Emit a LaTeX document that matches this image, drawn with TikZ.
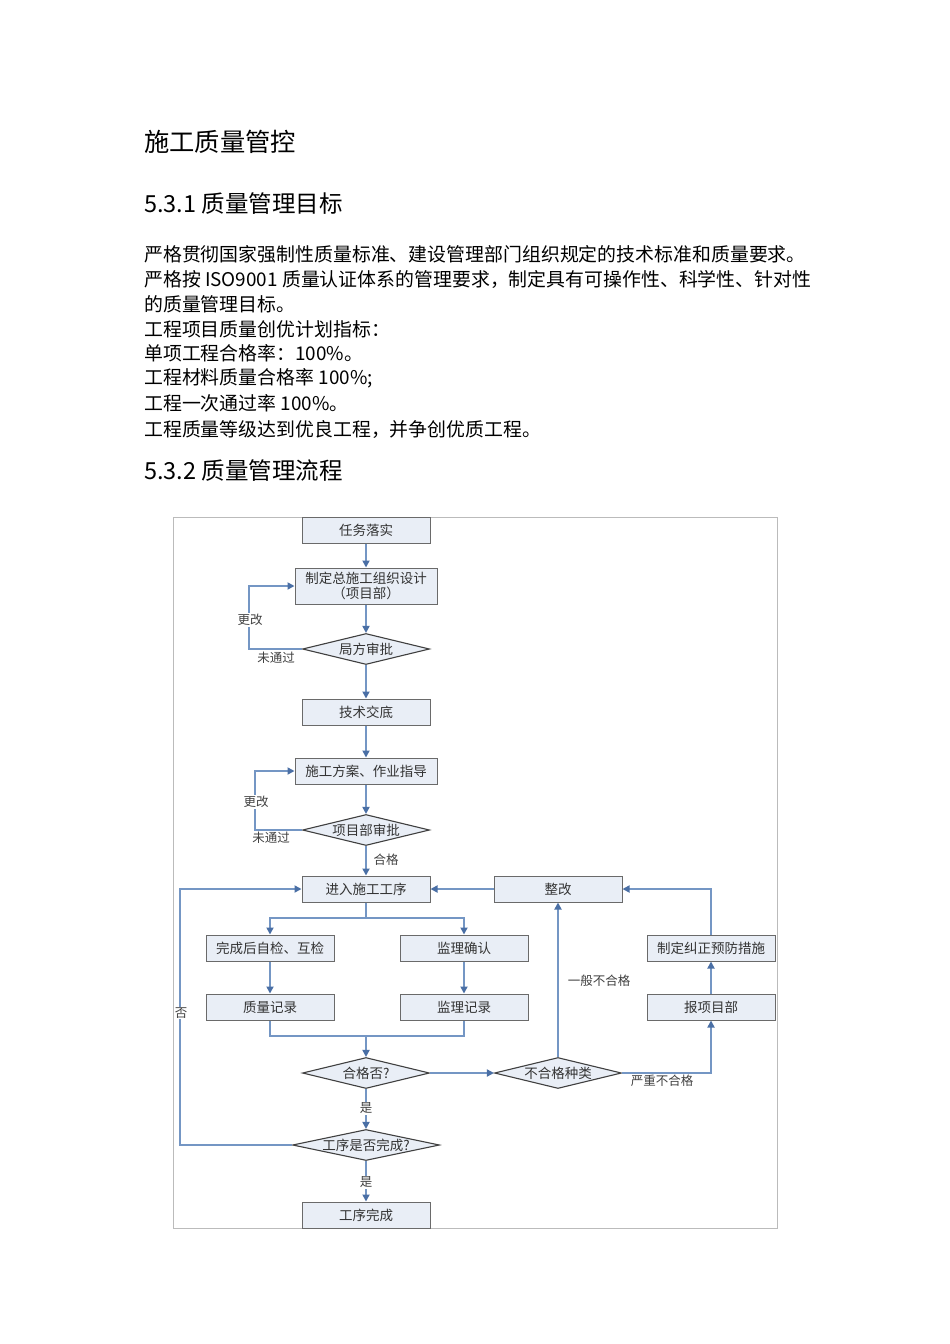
\documentclass[tikz,border=0pt]{standalone}
\usepackage{fontspec}
\setmainfont{Noto Sans CJK SC}
\usetikzlibrary{shapes.geometric,arrows.meta}
\definecolor{lineblue}{HTML}{7496C4}
\definecolor{tipblue}{HTML}{4A6FA5}
\definecolor{boxfill}{HTML}{E9EEF6}
\definecolor{boxline}{HTML}{6A6A6A}
\definecolor{frame}{HTML}{BBBBBB}
\begin{document}
\begin{tikzpicture}[x=1pt,y=-1pt,
  box/.style={draw=boxline,line width=1pt,fill=boxfill,minimum width=128pt,minimum height=26pt,inner sep=1pt,align=center,text=black!80,
    font=\fontsize{13.5}{15.5}\selectfont,
    preaction={fill=black!70,transform canvas={xshift=1.3pt,yshift=-1.3pt}}},
  wbox/.style={box,minimum width=142pt},
  dia/.style={diamond,draw=black!75,line width=1.1pt,fill=boxfill,minimum width=127pt,minimum height=31pt,inner sep=0pt,
    label={[font=\fontsize{13.5}{15}\selectfont,text=black!80]center:#1}},
  conn/.style={draw=lineblue,line width=1.7pt},
  arr/.style={conn,-{Triangle[width=7pt,length=7pt,color=tipblue]}},
  lbl/.style={font=\fontsize{12.5}{14}\selectfont,text=black!75,inner sep=1pt},
  wlbl/.style={lbl,fill=white},
  para/.style={anchor=west,inner sep=0pt,font=\fontsize{18.9}{20}\selectfont},
]
\useasboundingbox (0,0) rectangle (950,1344);
\fill[white] (0,0) rectangle (950,1344);

% text above
\node[para,font=\fontsize{25.3}{26}\selectfont] (t0) at (144,142) {施工质量管控};
\node[para,font=\fontsize{23.5}{24}\selectfont] (t1) at (144,204) {5.3.1 质量管理目标};
\node[para] (p1) at (144,254) {严格贯彻国家强制性质量标准、建设管理部门组织规定的技术标准和质量要求。};
\node[para] (p2) at (144,279) {严格按 ISO9001 质量认证体系的管理要求，制定具有可操作性、科学性、针对性};
\node[para] (p3) at (144,304) {的质量管理目标。};
\node[para] (p4) at (144,329) {工程项目质量创优计划指标：};
\node[para] (p5) at (144,353) {单项工程合格率：100\%。};
\node[para] (p6) at (144,378) {工程材料质量合格率 100\%;};
\node[para] (p7) at (144,403) {工程一次通过率 100\%。};
\node[para] (p8) at (144,429) {工程质量等级达到优良工程，并争创优质工程。};
\node[para,font=\fontsize{23.5}{24}\selectfont] (t2) at (144,471) {5.3.2 质量管理流程};

% frame
\draw[frame,line width=0.8pt] (173,517) rectangle (777,1228);

% nodes
\node[box] (n1) at (366,530) {任务落实};
\node[wbox,minimum height=36pt,font=\fontsize{13.5}{15}\selectfont] (n2) at (366,586) {制定总施工组织设计\\（项目部）};
\node[dia=局方审批] (d1) at (366,649) {};
\node[box] (n3) at (366,712) {技术交底};
\node[wbox] (n4) at (366,771) {施工方案、作业指导};
\node[dia=项目部审批] (d2) at (366,830) {};
\node[box] (n5) at (366,889) {进入施工工序};
\node[box] (n6) at (558,889) {整改};
\node[box] (n7) at (270,948) {完成后自检、互检};
\node[box] (n8) at (464,948) {监理确认};
\node[box] (n9) at (270,1007) {质量记录};
\node[box] (n10) at (464,1007) {监理记录};
\node[box] (n11) at (711,948) {制定纠正预防措施};
\node[box] (n12) at (711,1007) {报项目部};
\node[dia=合格否?] (d3) at (366,1073) {};
\node[dia=不合格种类] (d4) at (558,1073) {};
\node[dia=工序是否完成?,minimum width=147pt] (d5) at (366,1145) {};
\node[box] (n13) at (366,1215) {工序完成};

% connectors
\draw[arr] (n1) -- (n2);
\draw[arr] (n2) -- (d1);
\draw[arr] (d1.west) -- ++(-53,0) |- (n2.west);
\node[wlbl] (l1) at (250,620) {更改};
\node[lbl] (l2) at (276,658) {未通过};
\draw[arr] (d1) -- (n3);
\draw[arr] (n3) -- (n4);
\draw[arr] (n4) -- (d2);
\draw[arr] (d2.west) -- ++(-47,0) |- (n4.west);
\node[wlbl] (l3) at (256,802) {更改};
\node[lbl] (l4) at (271,838) {未通过};
\draw[arr] (d2) -- (n5);
\node[lbl] (l5) at (386,860) {合格};

\coordinate (s) at (366,918);
\draw[conn] (n5) -- (s);
\draw[arr] (s) -| (n7.north);
\draw[arr] (s) -| (n8.north);
\draw[arr] (n7) -- (n9);
\draw[arr] (n8) -- (n10);
\coordinate (m) at (366,1036);
\draw[conn] (n9.south) |- (m) -| (n10.south);
\draw[arr] (m) -- (d3.north);
\draw[arr] (d3.east) -- (d4.west);
\draw[arr] (d4.north) -- (n6.south);
\node[lbl] (l6) at (599,981) {一般不合格};
\draw[arr] (d4.east) -| (n12.south);
\node[lbl] (l7) at (662,1081) {严重不合格};
\draw[arr] (n12) -- (n11);
\draw[arr] (n11.north) |- (n6.east);
\draw[arr] (n6.west) -- (n5.east);
\draw[arr] (d3.south) -- (d5.north);
\node[wlbl] (l8) at (366,1108) {是};
\coordinate (lb) at (180,1145);
\draw[arr] (d5.west) -- (lb) |- (n5.west);
\node[wlbl] (l9) at (181,1013) {否};
\draw[arr] (d5.south) -- (n13.north);
\node[wlbl] (l10) at (366,1182) {是};
\end{tikzpicture}
\end{document}
